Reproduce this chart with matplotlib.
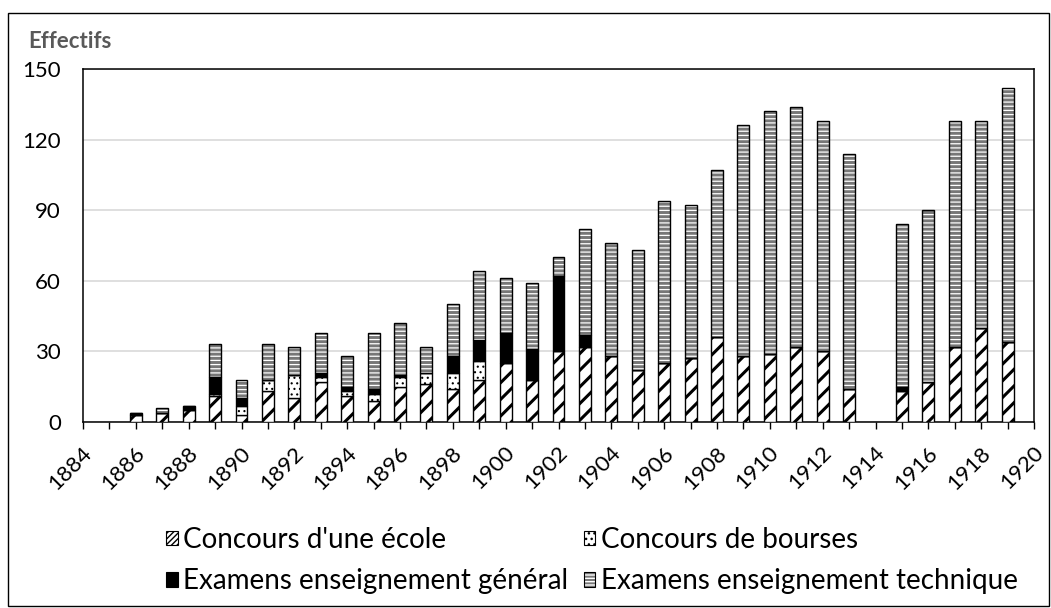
import matplotlib
matplotlib.use("Agg")
import matplotlib.pyplot as plt
from matplotlib.patches import Rectangle, Patch
from matplotlib.legend_handler import HandlerTuple
import matplotlib.transforms as mtransforms
import numpy as np

# ---------------- data ----------------
years = [1886, 1887, 1888, 1889, 1890, 1891, 1892, 1893, 1894, 1895, 1896,
         1897, 1898, 1899, 1900, 1901, 1902, 1903, 1904, 1905, 1906, 1907,
         1908, 1909, 1910, 1911, 1912, 1913, 1915, 1916, 1917, 1918, 1919]
ecole = [3, 4, 5, 11, 3, 13, 10, 17, 11, 9, 15,
         16, 14, 18, 25, 18, 30, 32, 28, 22, 25, 27,
         36, 28, 29, 32, 30, 14, 13, 17, 32, 40, 34]
bourses = [0, 0, 0, 1, 4, 5, 10, 2, 2, 3, 4,
           5, 7, 8, 0, 0, 0, 0, 0, 0, 0, 0,
           0, 0, 0, 0, 0, 0, 0, 0, 0, 0, 0]
general = [1, 0, 2, 7, 3, 0, 0, 2, 2, 2, 1,
           0, 7, 9, 13, 13, 32, 5, 0, 0, 0, 0,
           0, 0, 0, 0, 0, 0, 2, 0, 0, 0, 0]
technique = [0, 2, 0, 14, 8, 15, 12, 17, 13, 24, 22,
             11, 22, 29, 23, 28, 8, 45, 48, 51, 69, 65,
             71, 98, 103, 102, 98, 100, 69, 73, 96, 88, 108]
labels = ["Concours d'une école", "Concours de bourses",
          "Examens enseignement général", "Examens enseignement technique"]
yticks = [0, 30, 60, 90, 120, 150]
xlabel_years = list(range(1884, 1921, 2))

FONT = ['Lato', 'DejaVu Sans']
plt.rcParams['font.family'] = FONT

W, H = 1051, 608
fig = plt.figure(figsize=(W / 100, H / 100), dpi=100)
L, R, T, B = 83, 1034, 69, 422
ax = fig.add_axes([L / W, 1 - B / H, (R - L) / W, (B - T) / H])

x = np.array(years, dtype=float)
e = np.array(ecole, float)
b = np.array(bourses, float)
g = np.array(general, float)
t = np.array(technique, float)
bw = 0.45
EW = 1.0
GREY = '#777777'


def set_hl(patches, lw):
    for p in patches:
        if hasattr(p, 'set_hatch_linewidth'):
            p.set_hatch_linewidth(lw)


with plt.rc_context({'hatch.linewidth': 2.2}):
    bars = ax.bar(x, e, bw, color='white', edgecolor='black', hatch='//',
                  linewidth=EW, zorder=3)
set_hl(bars, 2.2)
with plt.rc_context({'hatch.linewidth': 0.8}):
    bars = ax.bar(x, b, bw, bottom=e, color='white', edgecolor='black',
                  hatch='...', linewidth=EW, zorder=3)
set_hl(bars, 0.8)
ax.bar(x, g, bw, bottom=e + b, color='black', edgecolor='black',
       linewidth=EW, zorder=3)
with plt.rc_context({'hatch.linewidth': 0.9}):
    bars = ax.bar(x, t, bw, bottom=e + b + g, color=GREY, edgecolor='white',
                  hatch='----', linewidth=0, zorder=3)
set_hl(bars, 0.9)
ax.bar(x, t, bw, bottom=e + b + g, fill=False, edgecolor='black',
       linewidth=EW, zorder=4)

ax.set_xlim(1884, 1920)
ax.set_ylim(0, 150)
ax.set_yticks(yticks)
ax.set_yticklabels([str(v) for v in yticks])
ax.yaxis.grid(True, color='#d9d9d9', linewidth=1.2, zorder=0)
ax.set_axisbelow(True)
ax.set_xticks(xlabel_years)
ax.set_xticklabels([str(v) for v in xlabel_years], rotation=45, ha='right',
                   va='center', rotation_mode='anchor')
ax.set_xticks(range(1884, 1921), minor=True)
ax.tick_params(axis='x', which='both', direction='out', length=5, width=1,
               color='black', labelsize=16, pad=15)
ax.tick_params(axis='y', length=0, labelsize=16, pad=16)
off = mtransforms.ScaledTranslation(6 / 100, 0, fig.dpi_scale_trans)
for lab in ax.get_xticklabels():
    lab.set_transform(lab.get_transform() + off)
for s in ax.spines.values():
    s.set_linewidth(1.1)
    s.set_color('black')

fig.text(28 / W, 1 - 42 / H, 'Effectifs', fontsize=16, fontweight='bold',
         color='#595959', va='center', ha='left')

fig.patches.append(Rectangle((8 / W, 1 - 606 / H), (1049 - 8) / W, (606 - 13) / H,
                             transform=fig.transFigure, fill=False,
                             edgecolor='black', linewidth=1.0))

with plt.rc_context({'hatch.linewidth': 1.2}):
    h_e = Patch(facecolor='white', edgecolor='black', hatch='//////', linewidth=0.8)
    h_b = Patch(facecolor='white', edgecolor='black', hatch='...', linewidth=0.8)
    h_g = Patch(facecolor='black', edgecolor='black', linewidth=0.8)
with plt.rc_context({'hatch.linewidth': 1.0}):
    h_t1 = Patch(facecolor=GREY, edgecolor='white', hatch='-----', linewidth=0)
h_t2 = Patch(fill=False, edgecolor='black', linewidth=0.8)
leg = fig.legend([h_e, h_g, h_b, (h_t1, h_t2)],
                 [labels[0], labels[2], labels[1], labels[3]],
                 handler_map={tuple: HandlerTuple(ndivide=1, pad=0)},
                 ncol=2, loc='upper left', bbox_to_anchor=(166 / W, 1 - 527 / H),
                 frameon=False, fontsize=20, handlelength=0.42, handleheight=0.42,
                 handletextpad=0.2, columnspacing=0.55, labelspacing=0.55,
                 borderaxespad=0, borderpad=0)

fig.savefig('out.png', dpi=100)
